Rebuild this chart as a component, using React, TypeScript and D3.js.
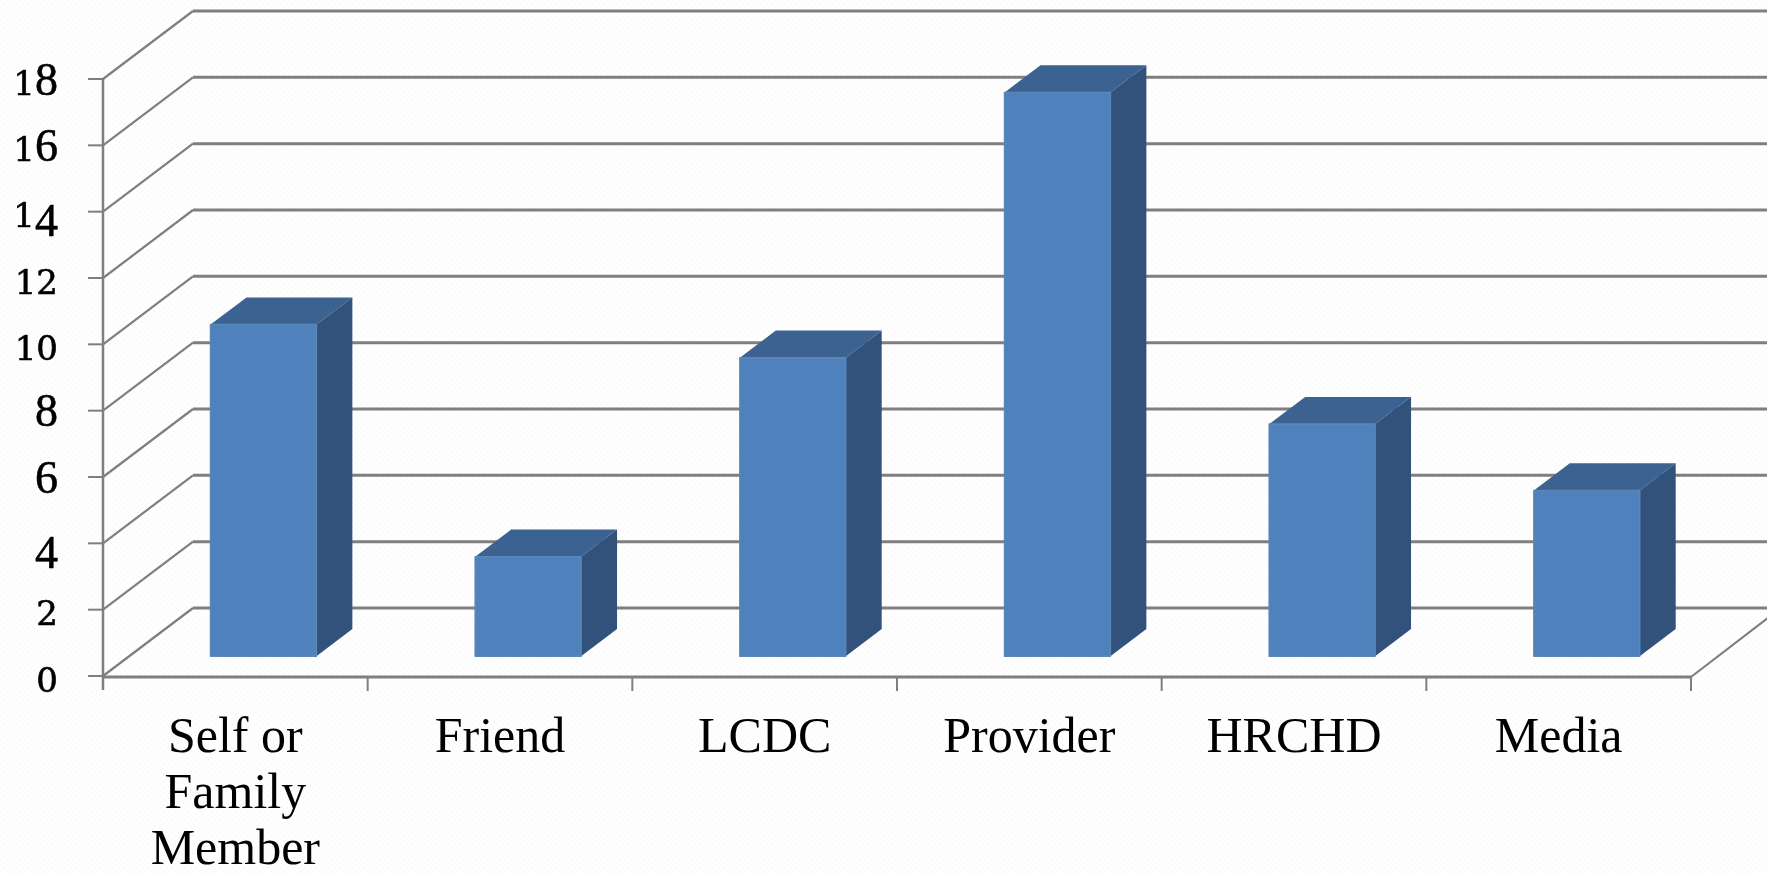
import { useEffect, useRef } from "react";
import * as d3 from "d3";

const categories = ["Self or|Family|Member", "Friend", "LCDC", "Provider", "HRCHD", "Media"];
const seriesValues = [10, 3, 9, 17, 7, 5];
const yTicks = [0, 2, 4, 6, 8, 10, 12, 14, 16, 18];

const W = 1767;
const H = 875;
const left = 103;
const right = 1691;
const wallDx = 90;
const wallDy = 68;
const barNear = 0.29;
const barFar = 0.69;
const gridColor = "#7f7f7f";
const font = "'Liberation Serif', serif";
const smallFont = "'DejaVu Serif', serif";

export default function App ()
{
    const svgRef = useRef<SVGSVGElement>( null );

    useEffect( () =>
    {
        if ( !svgRef.current ) return;
        const svg = d3.select( svgRef.current );
        svg.selectAll( "*" ).remove();

        const x = d3.scaleBand<number>().domain( d3.range( categories.length ) ).range( [ left, right ] ).paddingInner( 0 );
        const y = d3.scaleLinear().domain( [ 0, 18 ] ).range( [ 676, 79 ] );
        const barW = x.bandwidth() * 0.4;
        const barOff = ( x.bandwidth() - barW ) / 2 + 2;

        // projects a chart position to the page, z runs from the front plane to the back wall
        const px = ( sx: number, z: number ) => sx + z * wallDx;
        const py = ( v: number, z: number ) => y( v ) - z * wallDy;

        const defs = svg.append( "defs" );
        const pat = defs.append( "pattern" ).attr( "id", "dots" ).attr( "width", 6 ).attr( "height", 6 )
            .attr( "patternUnits", "userSpaceOnUse" );
        pat.append( "rect" ).attr( "width", 6 ).attr( "height", 6 ).attr( "fill", "#ffffff" );
        pat.append( "rect" ).attr( "width", 3 ).attr( "height", 3 ).attr( "fill", "#fcfcfc" );
        pat.append( "rect" ).attr( "x", 3 ).attr( "y", 3 ).attr( "width", 3 ).attr( "height", 3 ).attr( "fill", "#fcfcfc" );
        svg.append( "rect" ).attr( "width", W ).attr( "height", H ).attr( "fill", "url(#dots)" );

        const line = d3.line();
        const grid = svg.append( "g" ).attr( "fill", "none" ).attr( "stroke", gridColor );

        // Back wall grid and left wall diagonals
        yTicks.forEach( ( t ) =>
        {
            grid.append( "path" ).attr( "stroke-width", 2.2 ).attr( "d", line( [
                [ px( left, 0 ), py( t, 0 ) ],
                [ px( left, 1 ), py( t, 1 ) ],
            ] ) );
            grid.append( "path" ).attr( "stroke-width", 3 ).attr( "d", line( [
                [ px( left, 1 ), py( t, 1 ) ],
                [ px( right, 1 ), py( t, 1 ) ],
            ] ) );
            grid.append( "path" ).attr( "stroke-width", 2 ).attr( "d", line( [
                [ left - 15, y( t ) ],
                [ left, y( t ) ],
            ] ) );
        } );

        // Front axes
        grid.append( "path" ).attr( "stroke-width", 2.5 ).attr( "d", line( [ [ left, y( 18 ) ], [ left, y( 0 ) + 14 ] ] ) );
        grid.append( "path" ).attr( "stroke-width", 3 ).attr( "d", line( [ [ left, y( 0 ) + 1 ], [ right, y( 0 ) + 1 ] ] ) );
        grid.append( "path" ).attr( "stroke-width", 2.2 ).attr( "d", line( [ [ right, y( 0 ) + 1 ], [ px( right, 1 ), py( 0, 1 ) ] ] ) );
        d3.range( 1, categories.length + 1 ).forEach( ( i ) =>
        {
            const sx = i === categories.length ? right : ( x( i ) as number );
            grid.append( "path" ).attr( "stroke-width", 2 ).attr( "d", line( [ [ sx, y( 0 ) + 1 ], [ sx, y( 0 ) + 15 ] ] ) );
        } );

        // Bars
        const bars = svg.append( "g" ).attr( "stroke-linejoin", "round" );
        seriesValues.forEach( ( v, i ) =>
        {
            const x0 = ( x( i ) as number ) + barOff;
            const x1 = x0 + barW;
            const g = bars.append( "g" );
            g.append( "path" ).attr( "fill", "#3b6291" ).attr( "d", line( [
                [ px( x0, barNear ), py( v, barNear ) ],
                [ px( x1, barNear ), py( v, barNear ) ],
                [ px( x1, barFar ), py( v, barFar ) ],
                [ px( x0, barFar ), py( v, barFar ) ],
            ] ) + "Z" );
            g.append( "path" ).attr( "fill", "#32527b" ).attr( "d", line( [
                [ px( x1, barNear ), py( v, barNear ) ],
                [ px( x1, barFar ), py( v, barFar ) ],
                [ px( x1, barFar ), py( 0, barFar ) ],
                [ px( x1, barNear ), py( 0, barNear ) ],
            ] ) + "Z" );
            g.append( "path" ).attr( "fill", "#4f81bd" ).attr( "stroke", "#5d86b8" ).attr( "stroke-width", 1.5 ).attr( "d", line( [
                [ px( x0, barNear ), py( v, barNear ) ],
                [ px( x1, barNear ), py( v, barNear ) ],
                [ px( x1, barNear ), py( 0, barNear ) ],
                [ px( x0, barNear ), py( 0, barNear ) ],
            ] ) + "Z" );
        } );

        // Y tick labels, built digit by digit to get the old style figures of the original
        const tickLabels = svg.append( "g" ).attr( "text-anchor", "end" ).attr( "fill", "#000" )
            .attr( "stroke", "#000" ).attr( "stroke-width", 0.6 );
        yTicks.forEach( ( t ) =>
        {
            const text = tickLabels.append( "text" ).attr( "x", 58 ).attr( "y", y( t ) + 15.5 );
            let prevDy = 0;
            String( t ).split( "" ).forEach( ( ch ) =>
            {
                const small = "012".includes( ch );
                const drop = ch === "4" ? 9 : 0;
                text.append( "tspan" )
                    .attr( "dy", drop - prevDy )
                    .style( "font-family", small ? smallFont : font )
                    .style( "font-size", small ? "34px" : "46px" )
                    .text( ch );
                prevDy = drop;
            } );
        } );

        // Category labels
        const labels = svg.append( "g" ).attr( "text-anchor", "middle" ).attr( "fill", "#000" )
            .style( "font-family", font ).style( "font-size", "50px" );
        categories.forEach( ( c, i ) =>
        {
            const cx = ( x( i ) as number ) + x.bandwidth() / 2;
            c.split( "|" ).forEach( ( part, j ) =>
            {
                labels.append( "text" ).attr( "x", cx ).attr( "y", 752 + j * 56 ).text( part );
            } );
        } );
    }, [] );

    return (
        <svg ref={ svgRef } width={ W } height={ H } style={ { position: "fixed", left: 0, top: 0, display: "block" } } />
    );
}
